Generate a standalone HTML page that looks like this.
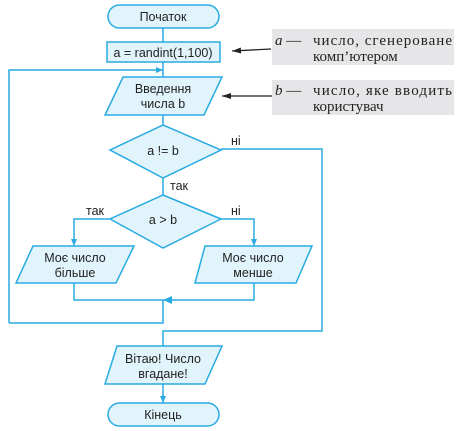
<!DOCTYPE html>
<html><head><meta charset="utf-8"><style>
html,body{margin:0;padding:0;background:#fff;width:460px;height:431px;overflow:hidden}
svg text{font-family:"Liberation Sans",sans-serif;font-size:12.5px;fill:#222}
.s{fill:#e1f3fb;stroke:#29abe2;stroke-width:1.5}
.l{fill:none;stroke:#29abe2;stroke-width:1.5}
.n{font-family:"Liberation Serif",serif;font-size:15px;fill:#222}
</style></head><body>
<svg width="460" height="431" viewBox="0 0 460 431" xmlns="http://www.w3.org/2000/svg">
<defs>
<marker id="a" markerWidth="8" markerHeight="8" refX="7" refY="4" orient="auto" markerUnits="userSpaceOnUse"><path d="M0,1 L7,4 L0,7 Z" fill="#29abe2"/></marker>
<marker id="k" markerWidth="10" markerHeight="8" refX="9" refY="4" orient="auto" markerUnits="userSpaceOnUse"><path d="M0,1 L9,4 L0,7 Z" fill="#222"/></marker>
</defs>
<path class="l" d="M163,28 V42"/>
<path class="l" d="M163,62 V77"/>
<path class="l" d="M9,323 V70 H163" marker-end="url(#a)"/>
<path class="l" d="M163,115 V125"/>
<path class="l" d="M221,149 H322 V331 H163 V346"/>
<path class="l" d="M163,178 V195"/>
<path class="l" d="M110,219 H74 V246" marker-end="url(#a)"/>
<path class="l" d="M221,219 H254 V246" marker-end="url(#a)"/>
<path class="l" d="M74,283 V300 H254 V283"/>
<path d="M163,300 L172,296 L172,304 Z" fill="#29abe2"/>
<path class="l" d="M163,300 V323 H9"/>
<path class="l" d="M163,384 V403" marker-end="url(#a)"/>
<rect class="s" x="108" y="5" width="111" height="23" rx="11.5"/>
<text x="163" y="21" text-anchor="middle">Початок</text>
<rect class="s" x="107" y="42" width="113" height="20"/>
<text x="163" y="57" text-anchor="middle">a = randint(1,100)</text>
<polygon class="s" points="123,77 222,77 204,115 105,115"/>
<text x="163" y="93" text-anchor="middle">Введення</text>
<text x="163" y="108" text-anchor="middle">числа b</text>
<polygon class="s" points="163,125 221,150 163,178 110,150"/>
<text x="163" y="155" text-anchor="middle">a != b</text>
<text x="231" y="145">ні</text>
<text x="170" y="190">так</text>
<polygon class="s" points="163,195 221,219 163,248 110,219"/>
<text x="163" y="224" text-anchor="middle">a &gt; b</text>
<text x="86" y="215">так</text>
<text x="231" y="215">ні</text>
<polygon class="s" points="33,246 134,246 116,283 16,283"/>
<text x="75" y="262" text-anchor="middle">Моє число</text>
<text x="75" y="277" text-anchor="middle">більше</text>
<polygon class="s" points="205,246 312,246 296,283 195,283"/>
<text x="253" y="262" text-anchor="middle">Моє число</text>
<text x="253" y="277" text-anchor="middle">менше</text>
<polygon class="s" points="117,346 222,346 205,384 105,384"/>
<text x="163" y="363" text-anchor="middle">Вітаю! Число</text>
<text x="163" y="378" text-anchor="middle">вгадане!</text>
<rect class="s" x="108" y="403" width="111" height="23" rx="11.5"/>
<text x="163" y="419" text-anchor="middle">Кінець</text>
<rect x="272" y="29" width="182" height="36" fill="#e6e6e8"/>
<rect x="272" y="80" width="182" height="35" fill="#e6e6e8"/>
<path d="M271,49 L232,51" stroke="#222" stroke-width="1.3" marker-end="url(#k)"/>
<path d="M272,96 L222,96" stroke="#222" stroke-width="1.3" marker-end="url(#k)"/>
<text class="n" x="275" y="45"><tspan font-style="italic">a</tspan> —</text>
<text class="n" x="313" y="45" textLength="139">число, сгенероване</text>
<text class="n" x="313" y="61">комп’ютером</text>
<text class="n" x="275" y="95"><tspan font-style="italic">b</tspan> —</text>
<text class="n" x="313" y="95" textLength="139">число, яке вводить</text>
<text class="n" x="313" y="111">користувач</text>
</svg>
</body></html>
